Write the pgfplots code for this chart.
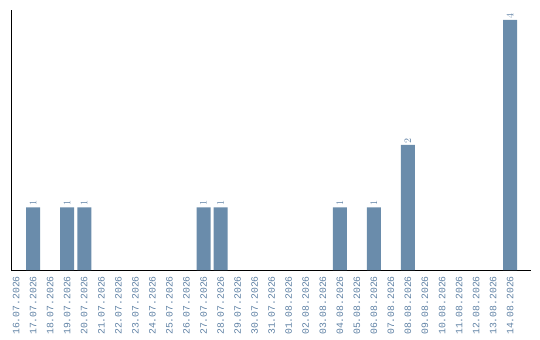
\documentclass[border=0pt]{standalone}
\usepackage{pgfplots}
\pgfplotsset{compat=1.18}
\usepackage{fontspec}
\setmainfont{Liberation Mono}
\definecolor{barblue}{RGB}{106,140,171}
\definecolor{lblblue}{RGB}{96,130,165}
\begin{document}
\begin{tikzpicture}
\path[use as bounding box] (-11bp,-70bp) rectangle (529bp,270bp);
\begin{axis}[
  at={(0,0)}, anchor=south west,
  scale only axis, width=520bp, height=260bp,
  xmin=-0.3, xmax=30.22, ymin=0, ymax=4.16,
  axis x line=bottom, axis y line=left,
  axis line style={-, black, line width=0.9pt},
  ytick=\empty,
  xtick={0,...,29},
  xticklabels={16.07.2026,17.07.2026,18.07.2026,19.07.2026,20.07.2026,21.07.2026,22.07.2026,23.07.2026,24.07.2026,25.07.2026,26.07.2026,27.07.2026,28.07.2026,29.07.2026,30.07.2026,31.07.2026,01.08.2026,02.08.2026,03.08.2026,04.08.2026,05.08.2026,06.08.2026,07.08.2026,08.08.2026,09.08.2026,10.08.2026,11.08.2026,12.08.2026,13.08.2026,14.08.2026},
  major tick length=0pt,
  xticklabel style={rotate=90, anchor=east, font=\fontsize{9.8}{10}\selectfont, text=lblblue, inner sep=0pt, xshift=-6bp},
  ybar, bar width=14bp,
  nodes near coords,
  every node near coord/.append style={rotate=90, anchor=west, font=\fontsize{9.8}{10}\selectfont, text=lblblue, inner sep=1.5pt},
]
\addplot[fill=barblue, draw=none] coordinates {
  (1,1) (3,1) (4,1) (11,1) (12,1) (19,1) (21,1) (23,2) (29,4)
};
\end{axis}
\end{tikzpicture}
\end{document}
